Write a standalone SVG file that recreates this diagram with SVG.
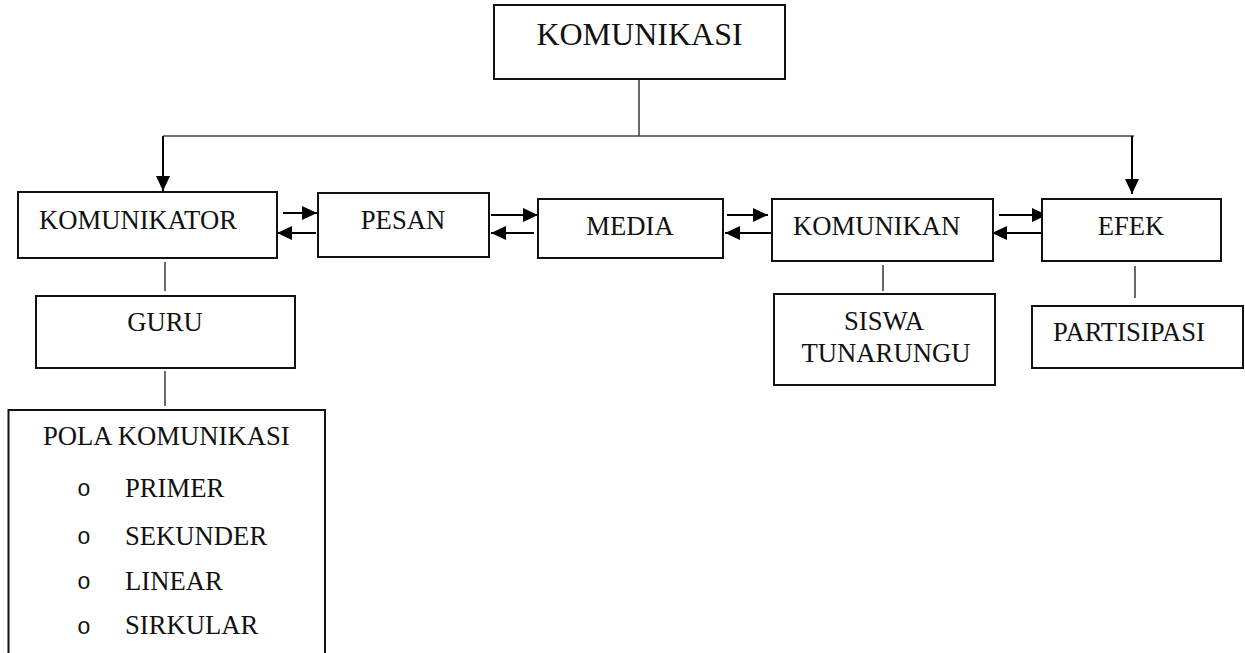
<svg xmlns="http://www.w3.org/2000/svg" width="1245" height="653" viewBox="0 0 1245 653">
<style>
  .box { fill: #fff; stroke: #111; stroke-width: 2; }
  .t { font-family: "Liberation Serif", serif; font-size: 26.67px; fill: #111; }
  .mid { text-anchor: middle; }
  .big { font-size: 32px; }
  .line { stroke: #444; stroke-width: 1.6; fill: none; }
  .arr { stroke: #000; stroke-width: 2; fill: none; marker-end: url(#ah); }
  .bul { font-family: "Liberation Mono", monospace; font-size: 23px; fill: #111; text-anchor: middle; }
</style>
<defs>
  <marker id="ah" markerUnits="userSpaceOnUse" markerWidth="15" markerHeight="14" refX="15" refY="7" orient="auto">
    <path d="M0,0 L15,7 L0,14 z" fill="#000"/>
  </marker>
</defs>
<rect width="1245" height="653" fill="#fff"/>

<g id="connectors">
  <path class="line" d="M639,80 V136"/>
  <path class="line" d="M163,136 H1134"/>
  <path class="arr" d="M163,136 V191"/>
  <path class="arr" d="M1132,136 V194"/>
  <path class="arr" d="M283,213 H317"/>
  <path class="arr" d="M316,233 H277"/>
  <path class="arr" d="M491,215 H538"/>
  <path class="arr" d="M534,233 H491"/>
  <path class="arr" d="M727,215 H768"/>
  <path class="arr" d="M772,233 H725"/>
  <path class="arr" d="M999,215 H1047"/>
  <path class="arr" d="M1041,233 H992"/>
  <path class="line" d="M165,262 V291"/>
  <path class="line" d="M165,371 V406"/>
  <path class="line" d="M883,265 V291"/>
  <path class="line" d="M1135,266 V298"/>
</g>

<g id="komunikasi">
  <rect class="box" x="494" y="5" width="291" height="74"/>
  <text class="t big mid" x="639.5" y="45">KOMUNIKASI</text>
</g>
<g id="komunikator">
  <rect class="box" x="18" y="192" width="259" height="66"/>
  <text class="t" x="39" y="229">KOMUNIKATOR</text>
</g>
<g id="pesan">
  <rect class="box" x="318" y="193" width="171" height="64"/>
  <text class="t mid" x="403" y="229">PESAN</text>
</g>
<g id="media">
  <rect class="box" x="538" y="199" width="185" height="59"/>
  <text class="t mid" x="630" y="235">MEDIA</text>
</g>
<g id="komunikan">
  <rect class="box" x="772" y="199" width="221" height="62"/>
  <text class="t" x="793" y="235">KOMUNIKAN</text>
</g>
<g id="efek">
  <rect class="box" x="1042" y="199" width="179" height="62"/>
  <text class="t mid" x="1131" y="235">EFEK</text>
</g>
<g id="guru">
  <rect class="box" x="36" y="296" width="259" height="72"/>
  <text class="t mid" x="165" y="331">GURU</text>
</g>
<g id="siswa">
  <rect class="box" x="774" y="294" width="221" height="91"/>
  <text class="t mid" x="884" y="330">SISWA</text>
  <text class="t mid" x="886" y="362">TUNARUNGU</text>
</g>
<g id="partisipasi">
  <rect class="box" x="1032" y="306" width="211" height="62"/>
  <text class="t" x="1053" y="341">PARTISIPASI</text>
</g>
<g id="pola">
  <rect class="box" x="8.5" y="410" width="316.5" height="260"/>
  <text class="t" x="43" y="445">POLA KOMUNIKASI</text>
  <text class="bul" x="84" y="496">o</text>
  <text class="t" x="125" y="497">PRIMER</text>
  <text class="bul" x="84" y="544">o</text>
  <text class="t" x="125" y="545">SEKUNDER</text>
  <text class="bul" x="84" y="589">o</text>
  <text class="t" x="125" y="590">LINEAR</text>
  <text class="bul" x="84" y="634">o</text>
  <text class="t" x="125" y="634">SIRKULAR</text>
</g>
</svg>
